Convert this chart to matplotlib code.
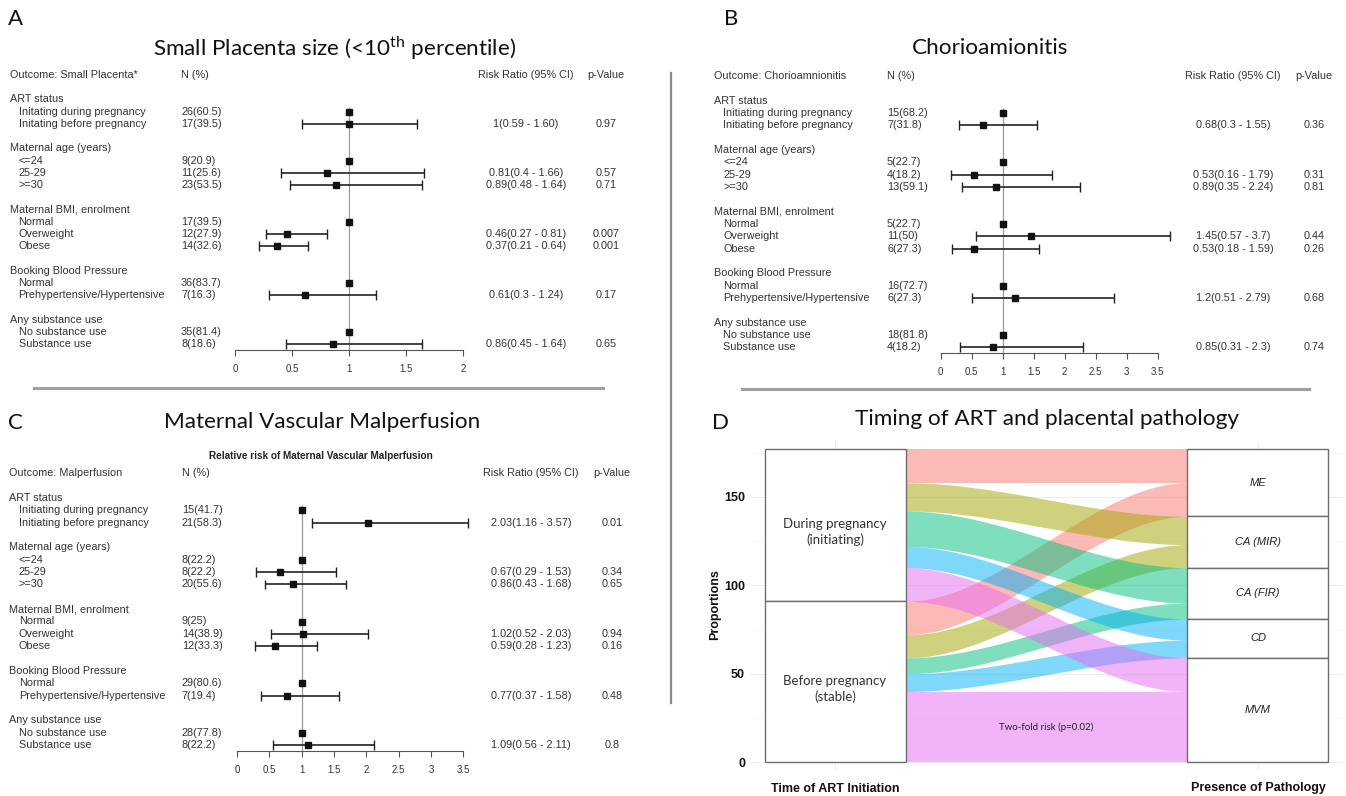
import numpy as np
import matplotlib.pyplot as plt
import matplotlib.transforms as mtransforms
from matplotlib.patches import Rectangle
from matplotlib.lines import Line2D

plt.rcParams['font.family'] = ['Liberation Sans', 'DejaVu Sans']
plt.rcParams['mathtext.fontset'] = 'custom'
plt.rcParams['mathtext.rm'] = 'Lato'

W, H = 1346, 796
nan = np.nan

# ---------------------------
# Forest plot rows (A, B, C)
# ---------------------------
groups = ["ART status", "Maternal age (years)", "Maternal BMI, enrolment",
          "Booking Blood Pressure", "Any substance use"]
items = [["Initiating during pregnancy", "Initiating before pregnancy"],
         ["<=24", "25-29", ">=30"],
         ["Normal", "Overweight", "Obese"],
         ["Normal", "Prehypertensive/Hypertensive"],
         ["No substance use", "Substance use"]]
items_a = [["Initating during pregnancy", "Initating before pregnancy"]] + items[1:]

# A - small placenta
a_n = ["26(60.5)", "17(39.5)", "9(20.9)", "11(25.6)", "23(53.5)", "17(39.5)",
       "12(27.9)", "14(32.6)", "36(83.7)", "7(16.3)", "35(81.4)", "8(18.6)"]
a_rr = [1, 1, 1, 0.81, 0.89, 1, 0.46, 0.37, 1, 0.61, 1, 0.86]
a_lo = [nan, 0.59, nan, 0.4, 0.48, nan, 0.27, 0.21, nan, 0.3, nan, 0.45]
a_hi = [nan, 1.60, nan, 1.66, 1.64, nan, 0.81, 0.64, nan, 1.24, nan, 1.64]
a_ci = ["", "1(0.59 - 1.60)", "", "0.81(0.4 - 1.66)", "0.89(0.48 - 1.64)", "",
        "0.46(0.27 - 0.81)", "0.37(0.21 - 0.64)", "", "0.61(0.3 - 1.24)", "",
        "0.86(0.45 - 1.64)"]
a_p = ["", "0.97", "", "0.57", "0.71", "", "0.007", "0.001", "", "0.17", "", "0.65"]

# B - chorioamnionitis
b_n = ["15(68.2)", "7(31.8)", "5(22.7)", "4(18.2)", "13(59.1)", "5(22.7)",
       "11(50)", "6(27.3)", "16(72.7)", "6(27.3)", "18(81.8)", "4(18.2)"]
b_rr = [1, 0.68, 1, 0.53, 0.89, 1, 1.45, 0.53, 1, 1.2, 1, 0.85]
b_lo = [nan, 0.3, nan, 0.16, 0.35, nan, 0.57, 0.18, nan, 0.51, nan, 0.31]
b_hi = [nan, 1.55, nan, 1.79, 2.24, nan, 3.7, 1.59, nan, 2.79, nan, 2.3]
b_ci = ["", "0.68(0.3 - 1.55)", "", "0.53(0.16 - 1.79)", "0.89(0.35 - 2.24)", "",
        "1.45(0.57 - 3.7)", "0.53(0.18 - 1.59)", "", "1.2(0.51 - 2.79)", "",
        "0.85(0.31 - 2.3)"]
b_p = ["", "0.36", "", "0.31", "0.81", "", "0.44", "0.26", "", "0.68", "", "0.74"]

# C - maternal vascular malperfusion
c_n = ["15(41.7)", "21(58.3)", "8(22.2)", "8(22.2)", "20(55.6)", "9(25)",
       "14(38.9)", "12(33.3)", "29(80.6)", "7(19.4)", "28(77.8)", "8(22.2)"]
c_rr = [1, 2.03, 1, 0.67, 0.86, 1, 1.02, 0.59, 1, 0.77, 1, 1.09]
c_lo = [nan, 1.16, nan, 0.29, 0.43, nan, 0.52, 0.28, nan, 0.37, nan, 0.56]
c_hi = [nan, 3.57, nan, 1.53, 1.68, nan, 2.03, 1.23, nan, 1.58, nan, 2.11]
c_ci = ["", "2.03(1.16 - 3.57)", "", "0.67(0.29 - 1.53)", "0.86(0.43 - 1.68)", "",
        "1.02(0.52 - 2.03)", "0.59(0.28 - 1.23)", "", "0.77(0.37 - 1.58)", "",
        "1.09(0.56 - 2.11)"]
c_p = ["", "0.01", "", "0.34", "0.65", "", "0.94", "0.16", "", "0.48", "", "0.8"]

# ---------------------------
# Alluvial data (D)
# ---------------------------
pathology = ["ME", "CA (MIR)", "CA (FIR)", "CD", "MVM"]
colours = ["#F8766D", "#A3A500", "#00BF7D", "#00B0F6", "#E76BF3"]
during = [19, 16, 20, 12, 19]
before = [19, 13, 9, 10, 40]

FS = 7.8
TXT = '#333333'

fig = plt.figure(figsize=(W / 100, H / 100), dpi=100)


def forest(outcome, item_lists, n_txt, rr, lo, hi, ci_txt, p_txt, geo):
    y0, unit, x0, ppu, xmax, lab_x, item_x, n_x, ci_x, p_x = geo
    top = y0 - 0.5 * unit
    bot = y0 + 22.5 * unit
    ax = fig.add_axes([x0 / W, 1 - bot / H, xmax * ppu / W, (bot - top) / H])
    ax.set_xlim(0, xmax)
    ax.set_ylim(22.5, -0.5)
    ax.patch.set_alpha(0)
    for s in ['left', 'right', 'top']:
        ax.spines[s].set_visible(False)
    ax.spines['bottom'].set_color('#555555')
    ticks = np.arange(0, xmax + 0.01, 0.5)
    ax.set_xticks(ticks)
    ax.set_xticklabels([f"{t:g}" for t in ticks], fontsize=7, color=TXT)
    ax.tick_params(axis='x', length=4, width=0.8, color='#555555', pad=6)
    ax.set_yticks([])

    tr = mtransforms.blended_transform_factory(fig.transFigure, ax.transData)
    kw = dict(transform=tr, fontsize=FS, color=TXT, va='center')
    ax.text(lab_x / W, 0, outcome, **kw)
    ax.text(n_x / W, 0, "N (%)", **kw)
    ax.text(ci_x / W, 0, "Risk Ratio (95% CI)", ha='center', **kw)
    ax.text(p_x / W, 0, "p-Value", ha='center', **kw)

    rows = []
    r = 2
    for g, its in zip(groups, item_lists):
        ax.text(lab_x / W, r, g, **kw)
        for it in its:
            r += 1
            ax.text(item_x / W, r, it, **kw)
            rows.append(r)
        r += 2
    rows = np.array(rows)
    for i, rw in enumerate(rows):
        ax.text(n_x / W, rw, n_txt[i], **kw)
        ax.text(ci_x / W, rw, ci_txt[i], ha='center', **kw)
        ax.text(p_x / W, rw, p_txt[i], ha='center', **kw)

    lo = np.array(lo)
    hi = np.array(hi)
    m = ~np.isnan(lo)
    ax.vlines(1, 2.6, 22.5, color='#9a9a9a', lw=0.9, zorder=0)
    ax.hlines(rows[m], lo[m], hi[m], color='#222222', lw=1.2, clip_on=False)
    ax.vlines(lo[m], rows[m] - 0.4, rows[m] + 0.4, color='#222222', lw=1.0, clip_on=False)
    ax.vlines(hi[m], rows[m] - 0.4, rows[m] + 0.4, color='#222222', lw=1.0, clip_on=False)
    ax.plot(rr, rows, 's', ms=5, color='#111111', clip_on=False, zorder=3)
    return ax


forest("Outcome: Small Placenta*", items_a, a_n, a_rr, a_lo, a_hi, a_ci, a_p,
       (75, 12.23, 235, 114, 2, 9.5, 18.6, 181, 526, 606))
forest("Outcome: Chorioamnionitis", items, b_n, b_rr, b_lo, b_hi, b_ci, b_p,
       (76, 12.33, 940.7, 62, 3.5, 714, 723, 887, 1233, 1314))
forest("Outcome: Malperfusion", items, c_n, c_rr, c_lo, c_hi, c_ci, c_p,
       (473.3, 12.35, 237, 64.7, 3.5, 9.4, 18.7, 182, 531, 612))

# ---------------------------
# Titles, panel letters, separators
# ---------------------------
tkw = dict(fontsize=16.2, family='Lato', color='#111111', ha='center', va='center')
fig.text(335 / W, 1 - 48 / H, "Small Placenta size (<10$^{\\mathrm{th}}$ percentile)", **tkw)
fig.text(990 / W, 1 - 48 / H, "Chorioamionitis", **tkw)
fig.text(322 / W, 1 - 422 / H, "Maternal Vascular Malperfusion", **tkw)
fig.text(1047 / W, 1 - 419 / H, "Timing of ART and placental pathology", **tkw)
lkw = dict(fontsize=16, family='Lato', color='#111111', ha='center', va='center')
fig.text(16 / W, 1 - 19 / H, "A", **lkw)
fig.text(731 / W, 1 - 19 / H, "B", **lkw)
fig.text(15 / W, 1 - 423 / H, "C", **lkw)
fig.text(721 / W, 1 - 423 / H, "D", **lkw)
fig.text(321 / W, 1 - 456 / H, "Relative risk of Maternal Vascular Malperfusion",
         fontsize=7.2, fontweight='bold', color='#222222', ha='center', va='center')

fig.add_artist(Line2D([34 / W, 603 / W], [1 - 388 / H, 1 - 388 / H], color='#a0a0a0', lw=2.2))
fig.add_artist(Line2D([742 / W, 1309 / W], [1 - 389 / H, 1 - 389 / H], color='#a0a0a0', lw=2.2))
fig.add_artist(Line2D([671 / W, 671 / W], [1 - 73 / H, 1 - 703 / H], color='#8a8a8a', lw=1.6))

# ---------------------------
# Alluvial plot (D)
# ---------------------------
axd = fig.add_axes([750 / W, 1 - 770 / H, 593 / W, 328 / H])
axd.set_xlim(0.799, 2.201)
axd.set_ylim(-4.35, 181)
for s in axd.spines.values():
    s.set_visible(False)
axd.set_yticks([0, 50, 100, 150])
axd.set_yticks([25, 75, 125, 175], minor=True)
axd.set_xticks([1, 2])
axd.set_xticklabels(["Time of ART Initiation", "Presence of Pathology"],
                    fontsize=9, fontweight='bold', color='#111111')
axd.tick_params(axis='both', which='both', length=0, labelsize=9)
axd.tick_params(axis='x', pad=9)
for lab in axd.get_yticklabels():
    lab.set_fontweight('bold')
    lab.set_color('#111111')
axd.grid(True, which='major', color='#ececec', lw=0.7)
axd.grid(True, which='minor', axis='y', color='#f4f4f4', lw=0.5)
axd.set_axisbelow(True)
fig.text(715 / W, 1 - 605 / H, "Proportions", rotation=90, fontsize=9,
         fontweight='bold', color='#111111', ha='center', va='center')

w = 1 / 3
total = sum(during) + sum(before)
left_top = []
y = total
for v in during + before:
    left_top.append(y)
    y -= v
right_top_d, right_top_b = [], []
y = total
for k in range(len(pathology)):
    right_top_d.append(y)
    y -= during[k]
    right_top_b.append(y)
    y -= before[k]

xs = np.linspace(1 + w / 2, 2 - w / 2, 200)
t = np.linspace(0, 1, 200)
sm = t * t * (3 - 2 * t)
n_p = len(pathology)
for k in range(n_p):
    for lt, rt, v in [(left_top[k], right_top_d[k], during[k]),
                      (left_top[n_p + k], right_top_b[k], before[k])]:
        upper = lt + (rt - lt) * sm
        axd.fill_between(xs, upper - v, upper, color=colours[k], alpha=0.5, lw=0, zorder=2)

box_kw = dict(facecolor='white', edgecolor='#6e6e6e', lw=1.0, zorder=3)
axd.add_patch(Rectangle((1 - w / 2, sum(before)), w, sum(during), **box_kw))
axd.add_patch(Rectangle((1 - w / 2, 0), w, sum(before), **box_kw))
y = total
for k in range(n_p):
    v = during[k] + before[k]
    axd.add_patch(Rectangle((2 - w / 2, y - v), w, v, **box_kw))
    axd.text(2, y - v / 2, pathology[k], style='italic', fontsize=8, color='#222222',
             ha='center', va='center', zorder=4)
    y -= v

skw = dict(family='Lato', fontsize=9.5, color='#333333', ha='center', va='center',
           zorder=4, linespacing=1.3)
axd.text(1, sum(before) + sum(during) / 2 - 4, "During pregnancy\n(initiating)", **skw)
axd.text(1, sum(before) / 2 - 4, "Before pregnancy\n(stable)", **skw)
axd.text(1.5, before[-1] / 2, "Two-fold risk (p=0.02)", family='Lato', fontsize=7,
         color='#222222', ha='center', va='center', zorder=4)

fig.savefig("out.png", dpi=100)
